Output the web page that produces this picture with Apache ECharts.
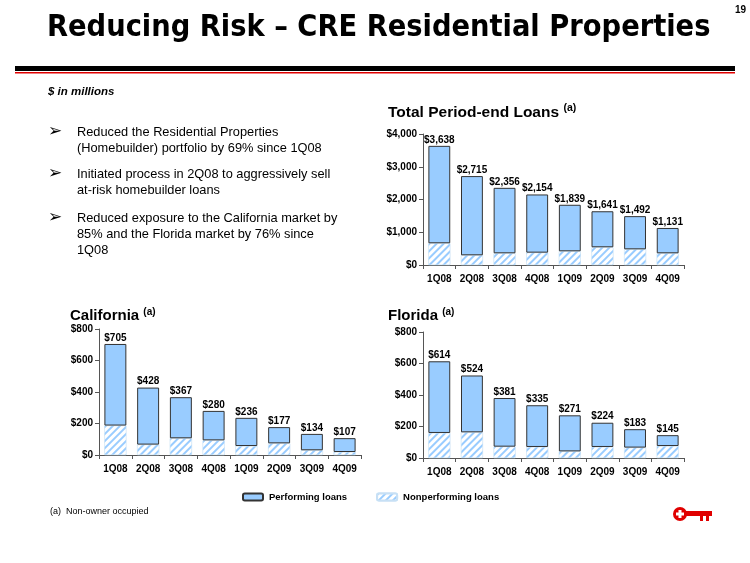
<!DOCTYPE html>
<html><head><meta charset="utf-8">
<script src="https://cdn.jsdelivr.net/npm/echarts@6/dist/echarts.min.js"></script>
<style>html,body{margin:0;padding:0;background:#fff}#c{width:750px;height:563px}</style>
</head><body><div id="c"></div>
<script>
const categories = ['1Q08','2Q08','3Q08','4Q08','1Q09','2Q09','3Q09','4Q09'];
const totalLoans = [3638, 2715, 2356, 2154, 1839, 1641, 1492, 1131];
const totalNonperf = [663, 296, 357, 377, 418, 541, 479, 357];
const caTotal = [705, 428, 367, 280, 236, 177, 134, 107];
const caNonperf = [187, 66, 106, 93, 57, 74, 30, 19];
const flTotal = [614, 524, 381, 335, 271, 224, 183, 145];
const flNonperf = [159, 163, 72, 70, 42, 70, 66, 76];
const totalTicks = [0, 1000, 2000, 3000, 4000];
const stateTicks = [0, 200, 400, 600, 800];

const FONT = 'Liberation Sans, Arial, sans-serif';
const BLUE = '#99CCFF';
const chart = echarts.init(document.getElementById('c'), null, {renderer: 'canvas'});

function fmt(v) { return '$' + v.toLocaleString('en-US'); }

const grids = [
  {left: 423, width: 261, top: 134, height: 131},
  {left: 99, width: 262, top: 329, height: 126},
  {left: 423, width: 261, top: 332, height: 126}
];
const dataSets = [
  {tot: totalLoans, np: totalNonperf, ticks: totalTicks},
  {tot: caTotal, np: caNonperf, ticks: stateTicks},
  {tot: flTotal, np: flNonperf, ticks: stateTicks}
];

const xAxis = [], yAxis = [], series = [];
dataSets.forEach((d, i) => {
  xAxis.push({
    type: 'category', gridIndex: i, data: categories,
    axisLine: {lineStyle: {color: '#555', width: 1}},
    axisTick: {show: true, alignWithLabel: false, length: 4, lineStyle: {color: '#555'}},
    axisLabel: {color: '#000', fontFamily: FONT, fontWeight: 'bold', fontSize: 10, margin: 9}
  });
  const mx = d.ticks[d.ticks.length - 1];
  yAxis.push({
    type: 'value', gridIndex: i, min: d.ticks[0], max: mx, interval: d.ticks[1] - d.ticks[0],
    splitLine: {show: false},
    axisLine: {show: true, lineStyle: {color: '#555', width: 1}},
    axisTick: {show: true, length: 4, lineStyle: {color: '#555'}},
    axisLabel: {color: '#000', fontFamily: FONT, fontWeight: 'bold', fontSize: 10, margin: 6,
      formatter: v => fmt(v)}
  });
  series.push({
    name: 'Nonperforming loans', type: 'bar', stack: 's' + i, xAxisIndex: i, yAxisIndex: i,
    data: d.np, barCategoryGap: '33%',
    itemStyle: {color: '#ffffff', borderColor: '#c7e0f5', borderWidth: 0.5,
      decal: {symbol: 'rect', symbolSize: 1, color: BLUE, backgroundColor: '#ffffff',
        dashArrayX: [1, 0], dashArrayY: [2, 3], rotation: -Math.PI / 4}}
  });
  series.push({
    name: 'Performing loans', type: 'bar', stack: 's' + i, xAxisIndex: i, yAxisIndex: i,
    data: d.tot.map((t, k) => t - d.np[k]), barCategoryGap: '33%',
    itemStyle: {color: BLUE, borderColor: '#333', borderWidth: 1},
    label: {show: true, position: 'top', distance: 1, color: '#000', fontFamily: FONT,
      fontWeight: 'bold', fontSize: 10, formatter: p => fmt(d.tot[p.dataIndex])}
  });
});

const bulletFont = '12.8px ' + FONT;
function txt(x, y, text, font, extra) {
  return Object.assign({type: 'text', left: x, top: y, style: {text: text, font: font, fill: '#000'}}, extra || {});
}
function line(cy, text) { return txt(77, cy - 7.5, text, bulletFont); }
function arrow(cy) { return txt(48, cy - 10, '\u27A2', '17px "DejaVu Sans", sans-serif'); }

const graphic = [
  txt(47, 13, 'Reducing Risk \u2013 CRE Residential Properties', 'bold 30.4px "DejaVu Sans Condensed", "DejaVu Sans", sans-serif'),
  txt(735, 5, '19', 'bold 10px ' + FONT),
  {type: 'rect', left: 15, top: 66, shape: {width: 720, height: 5}, style: {fill: '#000'}},
  {type: 'rect', left: 15, top: 72, shape: {width: 720, height: 1.5}, style: {fill: '#e00000'}},
  txt(48, 86, '$ in millions', 'italic bold 11.5px ' + FONT),
  {type: 'text', left: 388, top: 103, style: {rich: {a: {font: 'bold 15.5px ' + FONT, fill: '#000'}, s: {font: 'bold 10.5px ' + FONT, fill: '#000', padding: [0,0,8,0]}}, text: '{a|Total Period-end Loans }{s|(a)}'}},
  {type: 'text', left: 70, top: 307, style: {rich: {a: {font: 'bold 15px ' + FONT, fill: '#000'}, s: {font: 'bold 10px ' + FONT, fill: '#000', padding: [0,0,8,0]}}, text: '{a|California }{s|(a)}'}},
  {type: 'text', left: 388, top: 307, style: {rich: {a: {font: 'bold 15px ' + FONT, fill: '#000'}, s: {font: 'bold 10px ' + FONT, fill: '#000', padding: [0,0,8,0]}}, text: '{a|Florida }{s|(a)}'}},
  arrow(133), line(133, 'Reduced the Residential Properties'),
  line(149, '(Homebuilder) portfolio by 69% since 1Q08'),
  arrow(175), line(175, 'Initiated process in 2Q08 to aggressively sell'),
  line(191, 'at-risk homebuilder loans'),
  arrow(219), line(219, 'Reduced exposure to the California market by'),
  line(235, '85% and the Florida market by 76% since'),
  line(251, '1Q08'),
  txt(50, 507, '(a)  Non-owner occupied', '9px ' + FONT),
  // key logo
  {type: 'group', left: 673, top: 507, children: [
    {type: 'circle', shape: {cx: 8, cy: 7, r: 7}, style: {fill: '#e00000'}},
    {type: 'rect', shape: {x: 6.5, y: 3, width: 3, height: 8}, style: {fill: '#fff'}},
    {type: 'rect', shape: {x: 4, y: 5.5, width: 8, height: 3}, style: {fill: '#fff'}},
    {type: 'rect', shape: {x: 14, y: 4, width: 26, height: 5}, style: {fill: '#e00000'}},
    {type: 'rect', shape: {x: 28, y: 8, width: 3, height: 6}, style: {fill: '#e00000'}},
    {type: 'rect', shape: {x: 34, y: 8, width: 3, height: 6}, style: {fill: '#e00000'}}
  ]}
];

chart.setOption({
  animation: false,
  grid: grids,
  xAxis: xAxis,
  yAxis: yAxis,
  series: series,
  legend: {
    left: 237, top: 487, itemWidth: 20, itemHeight: 7, itemGap: 29,
    data: ['Performing loans', 'Nonperforming loans'],
    textStyle: {fontFamily: FONT, fontWeight: 'bold', fontSize: 9.5, color: '#000', padding: [0, 0, 0, 1]}
  },
  graphic: graphic
});
</script></body></html>
